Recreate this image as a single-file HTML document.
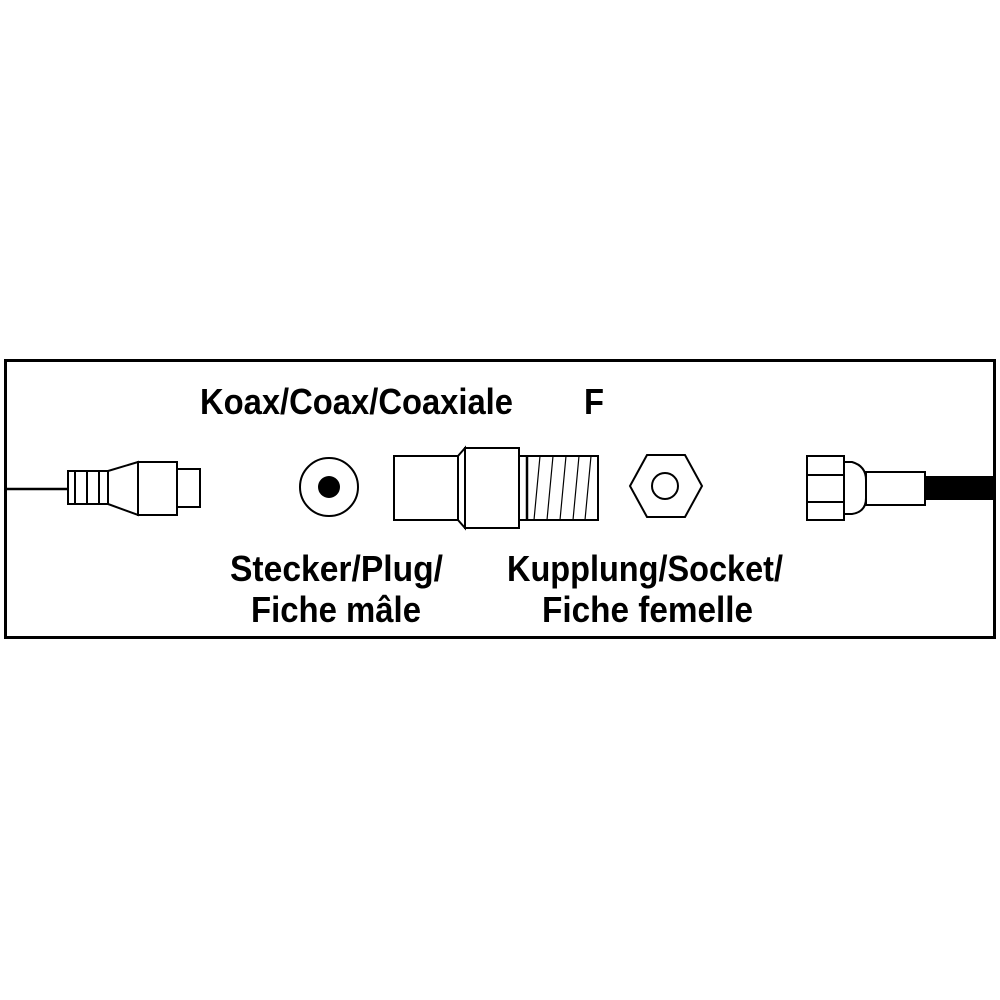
<!DOCTYPE html>
<html><head><meta charset="utf-8"><style>
html,body{margin:0;padding:0;background:#fff;}
svg{display:block}
text{font-family:"Liberation Sans",sans-serif;font-weight:bold;fill:#000;}
</style></head><body>
<svg width="1000" height="1000" viewBox="0 0 1000 1000">
<rect x="5.5" y="360.5" width="989" height="277" fill="none" stroke="#000" stroke-width="3"/>
<g fill="none" stroke="#000" stroke-width="2">
<!-- left plug -->
<line x1="5" y1="489" x2="68" y2="489" stroke-width="2.5"/>
<rect x="68" y="471" width="40" height="33"/>
<line x1="75" y1="471" x2="75" y2="504"/>
<line x1="87" y1="471" x2="87" y2="504"/>
<line x1="99" y1="471" x2="99" y2="504"/>
<polygon points="108,471 138,462 138,515 108,504"/>
<rect x="138" y="462" width="39" height="53"/>
<rect x="177" y="469" width="23" height="38"/>
<circle cx="329" cy="487" r="29"/>
<!-- adapter -->
<rect x="394" y="456" width="64" height="64"/>
<polygon points="458,456 465,448 465,528 458,520"/>
<rect x="465" y="448" width="54" height="80"/>
<rect x="519" y="456" width="79" height="64"/>
<line x1="527" y1="456" x2="527" y2="520" stroke-width="2.5"/>
<g stroke-width="1.2">
<line x1="540" y1="456" x2="534" y2="520"/>
<line x1="553" y1="456" x2="547" y2="520"/>
<line x1="566" y1="456" x2="560" y2="520"/>
<line x1="579" y1="456" x2="573" y2="520"/>
<line x1="591" y1="456" x2="585" y2="520"/>
</g>
<polygon points="630,486 647,455 685,455 702,486 685,517 647,517"/>
<circle cx="665" cy="486" r="13"/>
<!-- right connector -->
<rect x="807" y="456" width="37" height="64"/>
<line x1="807" y1="475" x2="844" y2="475"/>
<line x1="807" y1="502" x2="844" y2="502"/>
<path d="M844,462 L852,462 Q866,466 866,480 L866,498 Q866,512 852,514 L844,514"/>
<rect x="866" y="472" width="59" height="33"/>
</g>
<circle cx="329" cy="487" r="11" fill="#000"/>
<rect x="925" y="476" width="70" height="24" fill="#000"/>
<text x="200" y="414" font-size="36" textLength="313" lengthAdjust="spacingAndGlyphs">Koax/Coax/Coaxiale</text>
<text x="584" y="414" font-size="36" textLength="20" lengthAdjust="spacingAndGlyphs">F</text>
<text x="230" y="581" font-size="36" textLength="213" lengthAdjust="spacingAndGlyphs">Stecker/Plug/</text>
<text x="251" y="622" font-size="36" textLength="170" lengthAdjust="spacingAndGlyphs">Fiche mâle</text>
<text x="507" y="581" font-size="36" textLength="276" lengthAdjust="spacingAndGlyphs">Kupplung/Socket/</text>
<text x="542" y="622" font-size="36" textLength="211" lengthAdjust="spacingAndGlyphs">Fiche femelle</text>
</svg>
</body></html>
